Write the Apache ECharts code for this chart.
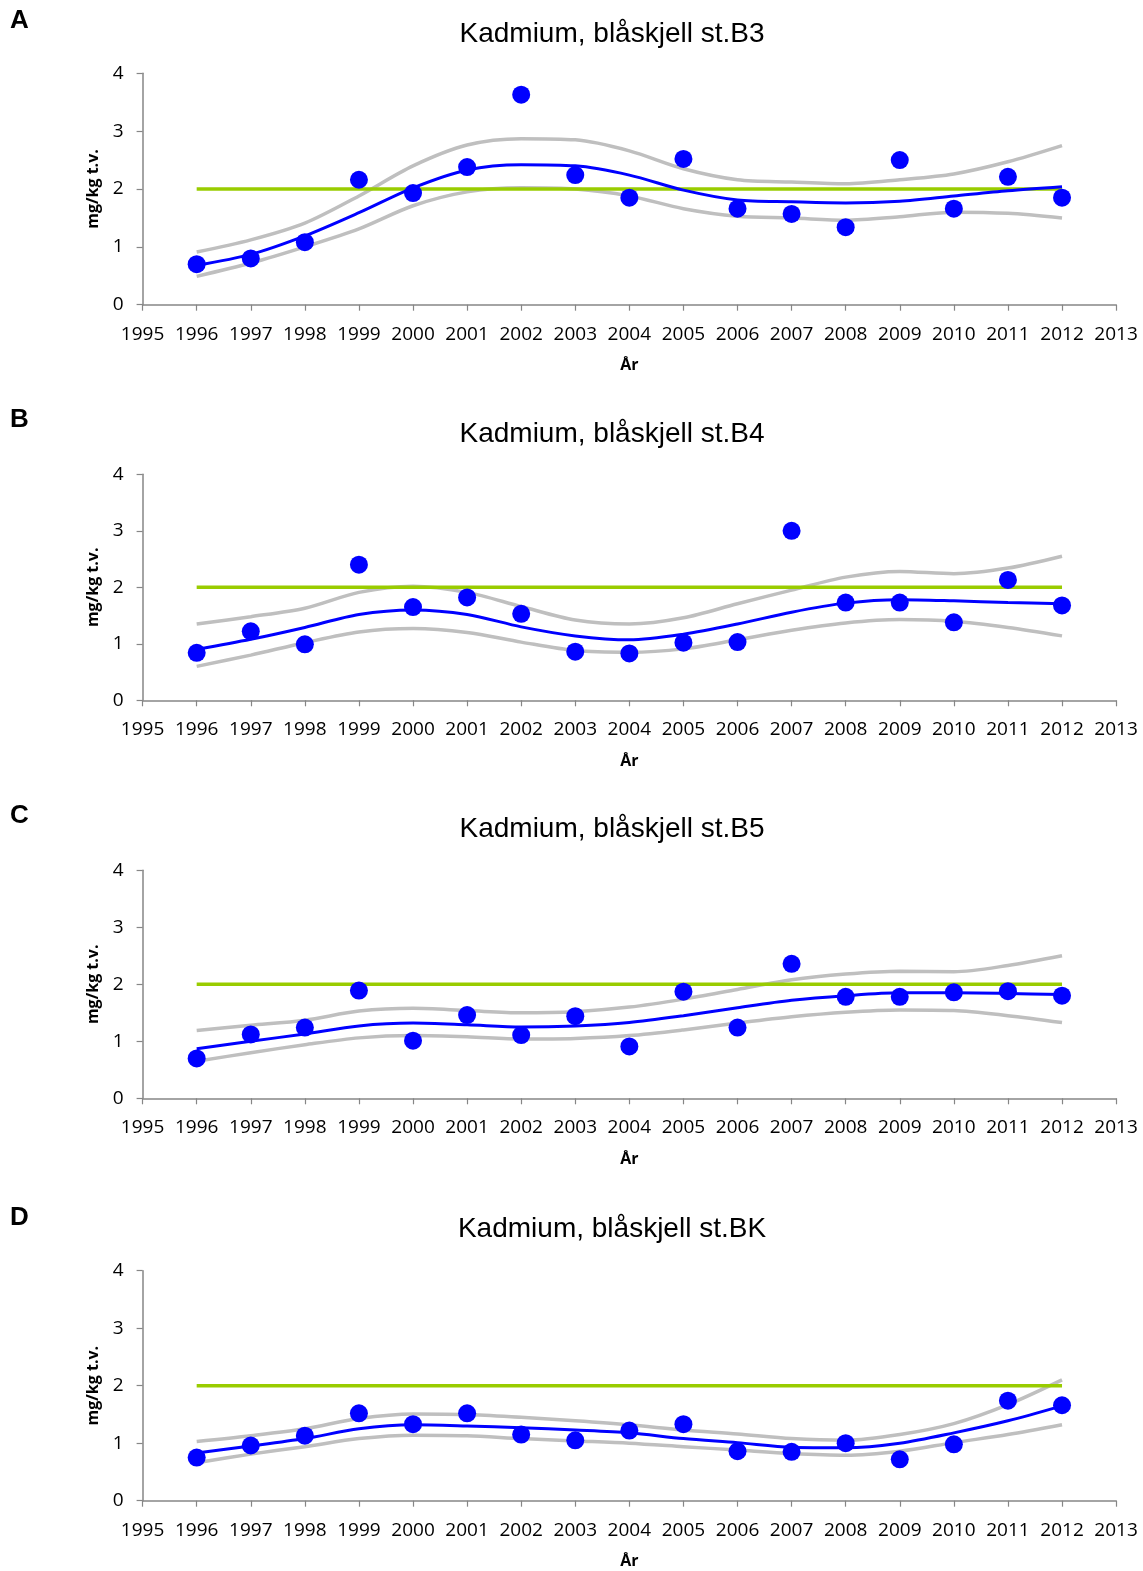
<!DOCTYPE html>
<html>
<head>
<meta charset="utf-8">
<script src="https://cdn.jsdelivr.net/npm/echarts@6/dist/echarts.min.js"></script>
<style>
html,body{margin:0;padding:0;background:#fff;}
#c{width:1143px;height:1571px;}
</style>
</head>
<body>
<div id="c"></div>
<script>
const years = [1996,1997,1998,1999,2000,2001,2002,2003,2004,2005,2006,2007,2008,2009,2010,2011,2012];
const xTicks = [1995,1996,1997,1998,1999,2000,2001,2002,2003,2004,2005,2006,2007,2008,2009,2010,2011,2012,2013];
const yTicks = [0,1,2,3,4];
const limitValue = 2;

const panelLetters = ['A','B','C','D'];
const panelTitles = ['Kadmium, blåskjell st.B3','Kadmium, blåskjell st.B4','Kadmium, blåskjell st.B5','Kadmium, blåskjell st.BK'];

// B3
const b3Obs   = [0.70,0.80,1.08,2.16,1.93,2.38,3.63,2.24,1.85,2.52,1.66,1.57,1.34,2.50,1.66,2.21,1.85];
const b3Trend = [0.68,0.87,1.19,1.59,2.02,2.33,2.42,2.40,2.24,1.98,1.81,1.78,1.76,1.79,1.88,1.97,2.04];
const b3Upper = [0.91,1.12,1.41,1.88,2.40,2.76,2.87,2.85,2.66,2.35,2.16,2.12,2.09,2.16,2.26,2.47,2.75];
const b3Lower = [0.49,0.72,1.00,1.31,1.71,1.95,2.02,2.00,1.88,1.66,1.53,1.50,1.46,1.52,1.60,1.58,1.50];
// B4
const b4Obs   = [0.84,1.22,0.99,2.40,1.65,1.82,1.53,0.86,0.83,1.02,1.03,3.00,1.73,1.73,1.38,2.13,1.68];
const b4Trend = [0.90,1.08,1.29,1.52,1.60,1.52,1.30,1.14,1.07,1.17,1.35,1.56,1.72,1.78,1.76,1.73,1.71];
const b4Upper = [1.35,1.48,1.63,1.91,2.02,1.91,1.66,1.42,1.35,1.46,1.71,1.95,2.18,2.28,2.24,2.34,2.55];
const b4Lower = [0.60,0.80,1.02,1.21,1.27,1.20,1.03,0.88,0.85,0.91,1.07,1.24,1.37,1.43,1.40,1.29,1.14];
// B5
const b5Obs   = [0.70,1.12,1.24,1.89,1.01,1.46,1.11,1.44,0.91,1.87,1.24,2.36,1.78,1.78,1.86,1.88,1.80];
const b5Trend = [0.87,1.00,1.13,1.27,1.32,1.29,1.25,1.27,1.33,1.45,1.59,1.72,1.80,1.85,1.85,1.84,1.82];
const b5Upper = [1.19,1.28,1.37,1.53,1.58,1.54,1.50,1.52,1.60,1.74,1.91,2.08,2.18,2.23,2.22,2.33,2.50];
const b5Lower = [0.65,0.80,0.94,1.06,1.10,1.08,1.04,1.05,1.10,1.20,1.32,1.43,1.51,1.55,1.54,1.45,1.33];
// BK
const bkObs   = [0.75,0.96,1.13,1.52,1.33,1.52,1.15,1.05,1.22,1.33,0.86,0.85,1.00,0.72,0.98,1.74,1.66];
const bkTrend = [0.83,0.95,1.08,1.25,1.32,1.30,1.27,1.23,1.18,1.08,1.01,0.93,0.92,1.00,1.18,1.39,1.65];
const bkUpper = [1.03,1.13,1.25,1.43,1.51,1.50,1.45,1.39,1.32,1.23,1.16,1.08,1.05,1.15,1.34,1.67,2.10];
const bkLower = [0.66,0.81,0.94,1.08,1.14,1.13,1.08,1.04,1.00,0.94,0.88,0.82,0.79,0.86,1.01,1.15,1.32];

const obsSets   = [b3Obs, b4Obs, b5Obs, bkObs];
const trendSets = [b3Trend, b4Trend, b5Trend, bkTrend];
const upperSets = [b3Upper, b4Upper, b5Upper, bkUpper];
const lowerSets = [b3Lower, b4Lower, b5Lower, bkLower];

// layout (pixels)
const gridTops    = [73.3, 474.3, 870.3, 1270.7];
const gridHeights = [231.4, 226, 228, 230];
const titleYs     = [32, 432, 827, 1227];
const letterYs    = [18, 417, 813, 1215];
const gridLeft = 142.6, gridRight = 1143 - 1116.1;

const pairs = arr => arr.map((v, i) => [years[i], v]);

const grids = [], xAxes = [], yAxes = [], series = [], titles = [];
for (let p = 0; p < 4; p++) {
  grids.push({left: gridLeft, right: gridRight, top: gridTops[p], height: gridHeights[p], containLabel: false});
  xAxes.push({
    type: 'value', gridIndex: p, min: xTicks[0], max: xTicks[xTicks.length - 1], interval: 1,
    name: 'År', nameLocation: 'middle', nameGap: 53,
    nameTextStyle: {fontFamily: 'Open Sans', fontWeight: 'bold', fontSize: 16, color: '#000'},
    axisLine: {lineStyle: {color: '#868686', width: 1.5}},
    axisTick: {show: true, length: 6, lineStyle: {color: '#868686', width: 1.2}},
    axisLabel: {fontFamily: 'Open Sans', fontSize: 19, color: '#000', margin: 20, formatter: v => String(v)},
    splitLine: {show: false}
  });
  yAxes.push({
    type: 'value', gridIndex: p, min: yTicks[0], max: yTicks[yTicks.length - 1], interval: 1,
    name: 'mg/kg t.v.', nameLocation: 'middle', nameGap: 39, nameRotate: 90,
    nameTextStyle: {fontFamily: 'Open Sans', fontWeight: 'bold', fontSize: 16, color: '#000'},
    axisLine: {show: true, lineStyle: {color: '#868686', width: 1.5}},
    axisTick: {show: true, length: 6, lineStyle: {color: '#868686', width: 1.2}},
    axisLabel: {fontFamily: 'Open Sans', fontSize: 19, color: '#000', margin: 19},
    splitLine: {show: false}
  });
  titles.push({
    text: panelTitles[p], left: 607, top: titleYs[p] - 17, textAlign: 'center',
    textStyle: {fontFamily: 'Liberation Sans', fontWeight: 'normal', fontSize: 28, color: '#000'}
  });
  titles.push({
    text: panelLetters[p], left: 5, top: letterYs[p] - 15,
    textStyle: {fontFamily: 'Liberation Sans', fontWeight: 'bold', fontSize: 26, color: '#000'}
  });
  const common = {xAxisIndex: p, yAxisIndex: p, symbol: 'none', silent: true, animation: false};
  series.push(Object.assign({type: 'line', data: pairs(upperSets[p]), smooth: 0.3,
    lineStyle: {color: '#BFBFBF', width: 3.5}, z: 2}, common));
  series.push(Object.assign({type: 'line', data: pairs(lowerSets[p]), smooth: 0.3,
    lineStyle: {color: '#BFBFBF', width: 3.5}, z: 2}, common));
  series.push(Object.assign({type: 'line', data: [[years[0], limitValue], [years[years.length - 1], limitValue]],
    lineStyle: {color: '#99CC00', width: 3.5}, z: 3}, common));
  series.push(Object.assign({type: 'line', data: pairs(trendSets[p]), smooth: 0.3,
    lineStyle: {color: '#0000FF', width: 3}, z: 4}, common));
  series.push({type: 'scatter', xAxisIndex: p, yAxisIndex: p, data: pairs(obsSets[p]),
    symbol: 'circle', symbolSize: 18, itemStyle: {color: '#0000FF', opacity: 1}, z: 5, silent: true, animation: false});
}

const chart = echarts.init(document.getElementById('c'), null, {renderer: 'canvas'});
chart.setOption({
  backgroundColor: '#fff',
  animation: false,
  title: titles,
  grid: grids,
  xAxis: xAxes,
  yAxis: yAxes,
  series: series
});
</script>
</body>
</html>
